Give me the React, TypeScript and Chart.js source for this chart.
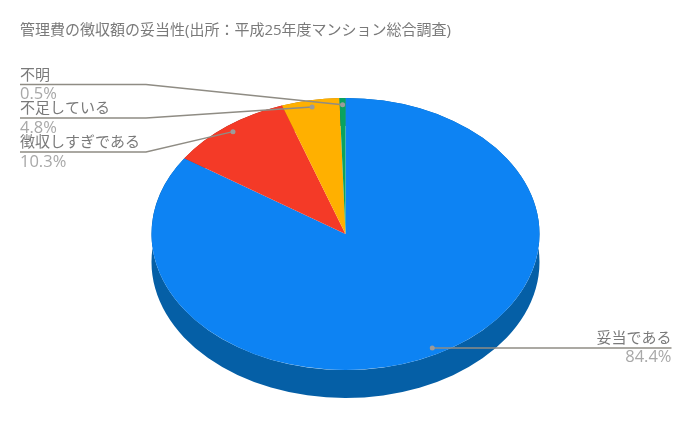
import React, { useEffect, useRef } from "react";
import { Chart, registerables } from "chart.js";

Chart.register(...registerables);

const titleText = "管理費の徴収額の妥当性(出所：平成25年度マンション総合調査)";
const categories = ["妥当である", "徴収しすぎである", "不足している", "不明"];
const shares = [84.4, 10.3, 4.8, 0.5];
const topColors = ["#0d83f3", "#f43a27", "#ffb000", "#0aa35f"];
const sideColors = ["#055fa6", "#aa2a1c", "#b27b00", "#077243"];
// layout of the callouts, per slice: row of the leader line, side of the chart
const calloutRows = [347.5, 152, 118, 84.5];
const calloutSides = ["right", "left", "left", "left"];

const FONT = "'Open Sans', 'Noto Sans CJK JP', sans-serif";
const SQUASH = 136 / 194;
const DEPTH = 28;

const tilted3d = {
  id: "tilted3d",
  beforeDatasetsDraw(chart: any) {
    const { ctx } = chart;
    const arcs = chart.getDatasetMeta(0).data;
    const cy = arcs[0].getProps(["y"], true).y;
    arcs.forEach((arc: any, i: number) => {
      const p = arc.getProps(["x", "y", "startAngle", "endAngle", "outerRadius"], true);
      const rx = p.outerRadius;
      const ry = rx * SQUASH;
      ctx.save();
      ctx.fillStyle = sideColors[i];
      ctx.beginPath();
      ctx.ellipse(p.x, cy, rx, ry, 0, p.startAngle, p.endAngle);
      ctx.ellipse(p.x, cy + DEPTH, rx, ry, 0, p.endAngle, p.startAngle, true);
      ctx.closePath();
      ctx.fill();
      ctx.restore();
    });
    ctx.save();
    ctx.translate(0, cy);
    ctx.scale(1, SQUASH);
    ctx.translate(0, -cy);
  },
  afterDatasetsDraw(chart: any) {
    chart.ctx.restore();
  },
  afterDraw(chart: any) {
    const { ctx } = chart;
    const arcs = chart.getDatasetMeta(0).data;
    arcs.forEach((arc: any, i: number) => {
      const p = arc.getProps(["x", "y", "startAngle", "endAngle", "outerRadius"], true);
      const mid = (p.startAngle + p.endAngle) / 2;
      const ax = p.x + Math.cos(mid) * p.outerRadius * 0.95;
      const ay = p.y + Math.sin(mid) * p.outerRadius * 0.95 * SQUASH;
      const row = calloutRows[i];
      const right = calloutSides[i] === "right";
      const endX = right ? 671.5 : 20;
      ctx.save();
      ctx.strokeStyle = "#8f8c84";
      ctx.lineWidth = 1.4;
      ctx.beginPath();
      ctx.moveTo(ax, ay);
      if (!right) ctx.lineTo(146, row);
      ctx.lineTo(endX, right ? ay : row);
      ctx.stroke();
      ctx.fillStyle = "#9b9b9b";
      ctx.beginPath();
      ctx.arc(ax, ay, 2.5, 0, Math.PI * 2);
      ctx.fill();
      ctx.textAlign = right ? "right" : "left";
      ctx.font = `15px ${FONT}`;
      ctx.fillStyle = "#7a7a7a";
      ctx.textBaseline = "alphabetic";
      ctx.fillText(categories[i], endX, row - 5);
      ctx.fillStyle = "#a8a8a8";
      ctx.font = `16.5px ${FONT}`;
      ctx.fillText(shares[i].toFixed(1) + "%", endX, row + 14.5);
      ctx.restore();
    });
  },
};

export default function App() {
  const ref = useRef<HTMLCanvasElement>(null);
  useEffect(() => {
    const chart = new Chart(ref.current!, {
      type: "pie",
      data: {
        labels: categories,
        datasets: [{ data: shares, backgroundColor: topColors, borderWidth: 0 }],
      },
      options: {
        responsive: false,
        animation: false,
        layout: { padding: { top: 22, bottom: 12, left: 20, right: 19 } },
        plugins: {
          legend: { display: false },
          tooltip: { enabled: false },
          title: {
            display: true,
            text: titleText,
            align: "start",
            color: "#7a7a7a",
            font: { family: FONT, size: 15, weight: "normal" },
            padding: { top: 0, bottom: 0 },
          },
        },
      },
      plugins: [tilted3d],
    } as any);
    return () => chart.destroy();
  }, []);
  return (
    <div style={{ position: "absolute", left: 0, top: 0 }}>
      <canvas ref={ref} width={690} height={440} style={{ display: "block" }} />
    </div>
  );
}
